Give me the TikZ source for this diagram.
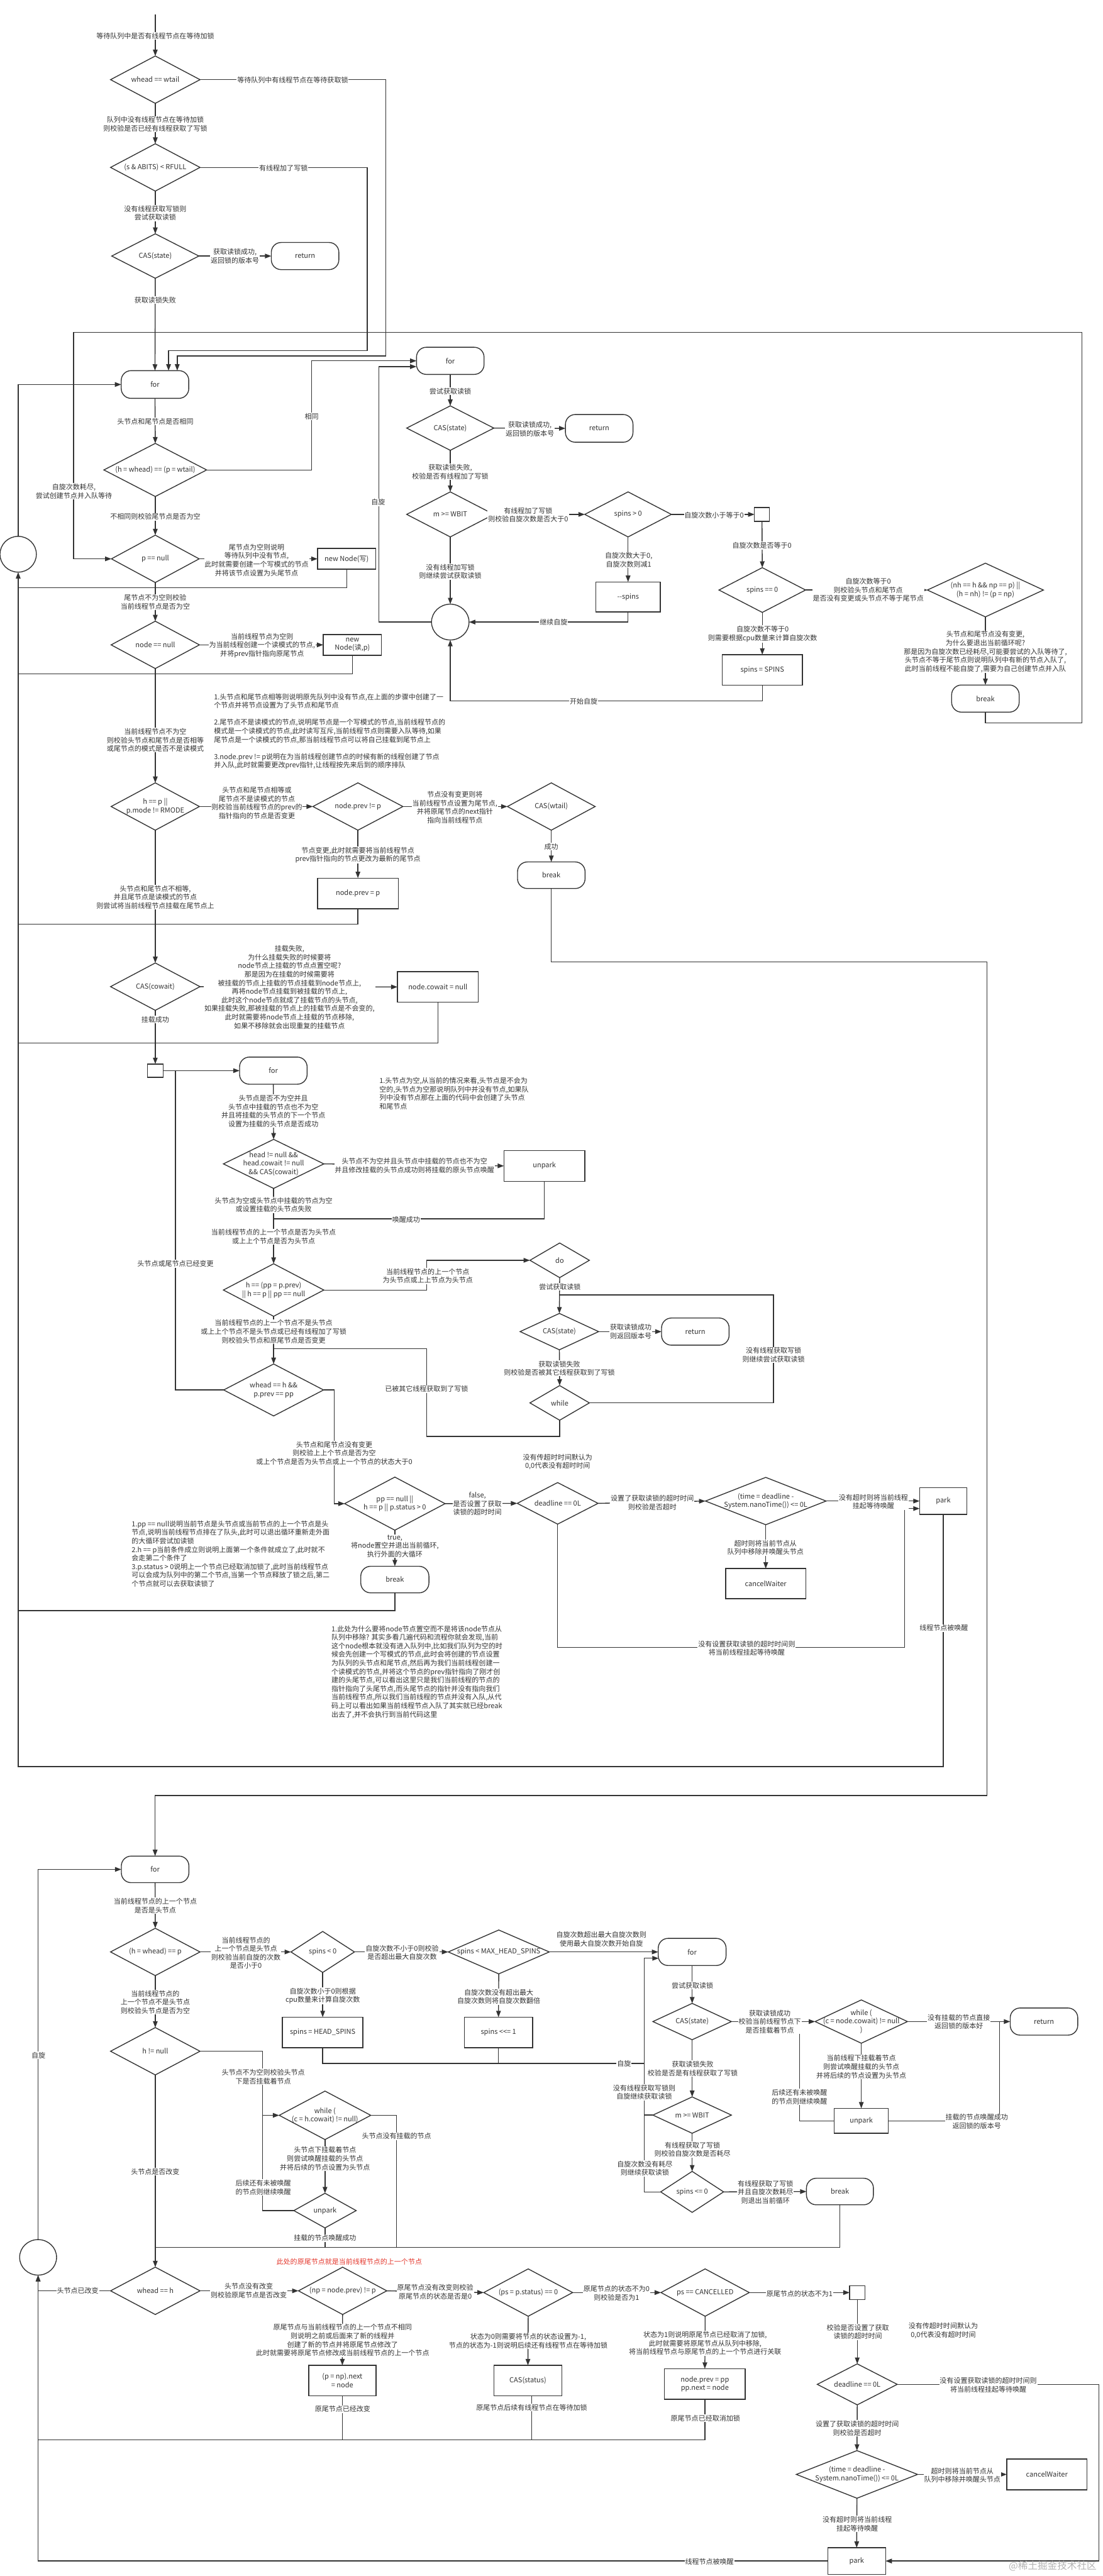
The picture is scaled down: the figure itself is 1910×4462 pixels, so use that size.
\documentclass[tikz,border=0pt]{standalone}
\usepackage{fontspec}
\setmainfont{Noto Sans CJK SC}
\usetikzlibrary{shapes.geometric,arrows.meta}
\definecolor{ink}{HTML}{333333}
\definecolor{redtxt}{HTML}{E5392F}
\definecolor{wm}{HTML}{B4B4B4}
\newcommand\myFont{\fontsize{12}{14.8}\selectfont\lineskiplimit=-30pt\relax}
\tikzset{
  lbl/.style={font=\myFont,text=ink,align=center,inner sep=0pt},
  dia/.style={diamond,draw=ink,line width=1.5pt,fill=white,inner sep=0pt,outer sep=0pt},
  boxn/.style={rectangle,draw=ink,line width=1.5pt,fill=white,inner sep=0pt,outer sep=0pt,font=\myFont,text=ink,align=center},
  term/.style={boxn,rounded corners=17pt},
  circn/.style={ellipse,draw=ink,line width=1.5pt,fill=white,inner sep=0pt,outer sep=0pt},
  ln/.style={draw=ink,line width=1.5pt},
  ar/.style={ln,-{Triangle[length=11pt,width=8pt]}},
  edgel/.style={lbl,fill=white,inner xsep=1pt,inner ysep=1pt},
  notel/.style={lbl,align=left,anchor=west}
}
\newcommand\myDia[6]{\node[dia,minimum width=#4pt,minimum height=#5pt,label={[lbl]center:{#6}}] (#1) at (#2,#3) {};}
\newcommand\myBox[6]{\node[boxn,minimum width=#4pt,minimum height=#5pt] (#1) at (#2,#3) {#6};}
\newcommand\myTerm[6]{\node[term,minimum width=#4pt,minimum height=#5pt] (#1) at (#2,#3) {#6};}
\newcommand\myPt[3]{\coordinate (#1) at (#2,#3);}
\newcommand\myLab[4]{\node[edgel] (#1) at (#2,#3) {#4};}
\begin{document}
\begin{tikzpicture}[x=1pt,y=-1pt]
\useasboundingbox[fill=white] (0,0) rectangle (1910,4462);
% ---------- nodes: top / left column
\myDia{dA}{269}{138}{155}{82}{whead == wtail}
\myDia{dB}{269}{290}{155}{82}{(s \& ABITS) < RFULL}
\myDia{dC}{269}{443.5}{151}{77}{CAS(state)}
\myTerm{retA}{528.5}{443.5}{117}{47}{return}
\myTerm{forA}{268.5}{666}{117}{48}{for}
\myDia{dD}{269}{814}{178}{92}{(h = whead) == (p = wtail)}
\myDia{dE}{269}{968}{152}{82}{p == null}
\myBox{bNewW}{600.5}{968}{101}{36}{new Node(写)}
\myDia{dF}{269}{1117}{153}{82}{node == null}
\myBox{bNewR}{610.5}{1117}{101}{36}{new\\Node(读,p)}
\myDia{dG}{269}{1397}{153}{82}{h == p ||\\p.mode != RMODE}
\myDia{dH}{620}{1397}{156}{82}{node.prev != p}
\myDia{dI}{955}{1397}{152}{82}{CAS(wtail)}
\myTerm{brkB}{955}{1516}{117}{46}{break}
\myBox{bPrev}{620}{1547.5}{140}{53}{node.prev = p}
\myDia{dJ}{269}{1709}{155}{82}{CAS(cowait)}
\myBox{bCowait}{758.5}{1709.5}{140}{53}{node.cowait = null}
\myBox{sqA}{269}{1854.5}{27}{23}{}
\myTerm{forB}{473.5}{1854.5}{117}{47}{for}
\myDia{dK}{474}{2016}{174}{85}{head != null \&\&\\head.cowait != null\\\&\& CAS(cowait)}
\myBox{bUnpA}{943}{2019.5}{140}{53}{unpark}
\myDia{dL}{474}{2234.5}{174}{91}{h == (pp = p.prev)\\|| h == p || pp == null}
\myDia{dDo}{969.5}{2183}{103}{60}{do}
\myDia{dCasC}{969}{2306.5}{136}{63}{CAS(state)}
\myTerm{retC}{1204.5}{2306.5}{117}{47}{return}
\myDia{dWh}{969.5}{2430}{103}{60}{while}
\myDia{dM}{474}{2407.6}{173}{90}{whead == h \&\&\\p.prev == pp}
\myDia{dN}{684}{2604.5}{174}{92}{pp == null ||\\h == p || p.status > 0}
\myDia{dO}{966}{2604}{140}{72}{deadline == 0L}
\myDia{dP}{1326.5}{2600}{209}{82}{(time = deadline -\\System.nanoTime()) <= 0L}
\myBox{parkA}{1634}{2600}{82}{46.5}{park}
\myBox{cancelA}{1326.5}{2743}{139}{52}{cancelWaiter}
\myTerm{brkC}{684}{2736}{118}{46}{break}
\node[circn,minimum width=63pt,minimum height=62pt] (circA) at (31.5,960) {};
% ---------- nodes: upper right
\myTerm{forR}{780}{625}{117}{47}{for}
\myDia{dCas}{780}{741.5}{151}{77}{CAS(state)}
\myTerm{retB}{1038}{742}{117}{48}{return}
\myDia{dWbit}{780}{891}{151}{78}{m >= WBIT}
\myDia{dSp}{1088}{891}{150}{78}{spins > 0}
\myBox{sqB}{1320}{891}{26}{24}{}
\myBox{bDec}{1088}{1034}{112}{52}{{-}{-}spins}
\node[circn,minimum width=65pt,minimum height=62pt] (circB) at (780,1077.5) {};
\myDia{dSpz}{1320.5}{1022}{150}{77.5}{spins == 0}
\myBox{bSpins}{1320.5}{1160.5}{139}{53}{spins = SPINS}
\myDia{dNh}{1707}{1022}{201}{93}{(nh == h \&\& np == p) ||\\(h = nh) != (p = np)}
\myTerm{brkA}{1707}{1210}{117}{47}{break}
% ---------- nodes: lower block
\myTerm{forC}{268.7}{3238}{117}{46}{for}
\myDia{dQ}{269}{3381}{155}{82}{(h = whead) == p}
\myDia{dR}{559}{3381}{110}{71}{spins < 0}
\myDia{dS}{864}{3381}{175}{76}{spins < MAX\_HEAD\_SPINS}
\myBox{bHead}{559}{3520.5}{139.5}{53}{spins = HEAD\_SPINS}
\myBox{bShl}{863.5}{3520.5}{118}{53}{spins <{}<= 1}
\myTerm{forD}{1199}{3381}{117.5}{47}{for}
\myDia{dT}{1199}{3501.6}{136}{63}{CAS(state)}
\myDia{dU}{1492}{3501.6}{160}{75}{while (\\(c = node.cowait) != null\\)}
\myTerm{retD}{1808.5}{3501.6}{117}{47}{return}
\myBox{bUnpB}{1492}{3673.5}{94}{43}{unpark}
\myDia{dV}{1199}{3663.6}{136}{63}{m >= WBIT}
\myDia{dW}{1199}{3796.6}{109}{71}{spins <= 0}
\myTerm{brkD}{1455}{3796}{116}{46}{break}
\myDia{dX}{269}{3553}{155}{82}{h != null}
\myDia{dY}{563}{3664}{158.6}{84}{while (\\(c = h.cowait) != null)}
\myDia{dZ}{563}{3829}{108}{60}{unpark}
\node[circn,minimum width=64pt,minimum height=61.5pt] (circC) at (66,3910) {};
\myDia{dAb}{269}{3968}{155}{82}{whead == h}
\myDia{dBb}{593.5}{3968}{153}{82}{(np = node.prev) != p}
\myDia{dCb}{915}{3971}{154}{82}{(ps = p.status) == 0}
\myDia{dDb}{1221.5}{3971}{153}{82}{ps == CANCELLED}
\myBox{sqC}{1485}{3971}{26.5}{24}{}
\myBox{bP}{593}{4123.5}{116.5}{53}{(p = np).next\\= node}
\myBox{bCas}{914.5}{4123.5}{117}{53}{CAS(status)}
\myBox{bPP}{1221}{4129.5}{140}{53}{node.prev = pp\\pp.next = node}
\myDia{dEb}{1485}{4130}{138.5}{71}{deadline == 0L}
\myDia{dFb}{1484.5}{4286}{210}{82.5}{(time = deadline -\\System.nanoTime()) <= 0L}
\myBox{cancelB}{1813.5}{4286}{139}{53}{cancelWaiter}
\myBox{parkB}{1484}{4436}{100}{46}{park}
% ---------- way points
\myPt{start}{269}{25}
\myPt{wA}{668}{616.5}\myPt{inA}{307}{642}
\myPt{wB}{636}{607.5}\myPt{inB}{292}{642}
\myPt{wD}{540}{625}
\myPt{wEa}{1874}{1252}\myPt{wEb}{127.5}{576}
\myPt{jA}{31.5}{1018}\myPt{jB}{31.5}{1167}\myPt{jC}{31.5}{1600.5}\myPt{jD}{31.5}{1807}\myPt{jE}{31.5}{2790}\myPt{jF}{31.5}{3060}
\myPt{wIa}{1710}{1666}\myPt{wIb}{268.7}{3110}
\myPt{jUnp}{474}{2111}
\myPt{wLa}{739}{2183}
\myPt{wWa}{1340}{2243}\myPt{jWa}{969.5}{2243}
\myPt{wWb}{739}{2488}\myPt{jWb}{474}{2336}
\myPt{wM}{304}{1854.5}
\myPt{wN}{579}{2604.5}
\myPt{wOa}{1567}{2853.6}\myPt{inP}{1593}{2613}
\myPt{wSa}{780}{1214}
\myPt{wCa}{656}{635}\myPt{inR}{721.5}{635}
\myPt{jSp}{1116}{3574}\myPt{jSpb}{863.5}{3574}
\myPt{wX}{454.6}{3664}
\myPt{wZ}{563}{3893}\myPt{wY}{687}{3893}\myPt{wBr}{269}{3893}
\myPt{jLow}{66}{4226}\myPt{casOut}{921}{4150}
\myPt{wEb2}{1903.6}{4436}
\myPt{jU}{1385}{3501.6}\myPt{jUr}{1731.6}{3501.6}
\myPt{wW}{1116}{3392}\myPt{inD}{1141}{3392}\myPt{jV}{1116}{3663.6}
% ---------- connectors
\draw[ar] (start) -- (dA.north);
\draw[ar] (dA.south) -- (dB.north);
\draw[ar] (dB.south) -- (dC.north);
\draw[ar] (dC.east) -- (retA.west);
\draw[ar] (dC.south) -- (forA.north);
\draw[ar] (dA.east) -| (wA) -| (inA);
\draw[ar] (dB.east) -| (wB) -| (inB);
\draw[ar] (forA.south) -- (dD.north);
\draw[ar] (dD.east) -| (wD) -- (forR.west);
\draw[ar] (dD.south) -- (dE.north);
\draw[ar] (brkA.south) |- (wEa) |- (wEb) |- (dE.west);
\draw[ar] (dE.east) -- (bNewW.west);
\draw[ar] (dE.south) -- (dF.north);
\draw[ln] (bNewW.south) |- (jA);
\draw[ln] (bNewR.south) |- (jB);
\draw[ar] (parkA.south) |- (jF) -- (circA.south);
\draw[ln] (bPrev.south) |- (jC);
\draw[ln] (bCowait.south) |- (jD);
\draw[ln] (brkC.south) |- (jE);
\draw[ar] (circA.north) |- (forA.west);
\draw[ar] (dF.east) -- (bNewR.west);
\draw[ar] (dF.south) -- (dG.north);
\draw[ar] (dG.east) -- (dH.west);
\draw[ar] (dH.east) -- (dI.west);
\draw[ar] (dI.south) -- (brkB.north);
\draw[ar] (brkB.south) |- (wIa) |- (wIb) -- (forC.north);
\draw[ar] (dH.south) -- (bPrev.north);
\draw[ar] (dG.south) -- (dJ.north);
\draw[ar] (dJ.east) -- (bCowait.west);
\draw[ar] (dJ.south) -- (sqA.north);
\draw[ar] (sqA.east) -- (forB.west);
\draw[ar] (forB.south) -- (dK.north);
\draw[ar] (dK.east) -- (bUnpA.west);
\draw[ln] (bUnpA.south) |- (jUnp);
\draw[ar] (dK.south) -- (dL.north);
\draw[ar] (dL.south) -- (dM.north);
\draw[ar] (dL.east) -| (wLa) -- (dDo.west);
\draw[ar] (dDo.south) -- (dCasC.north);
\draw[ar] (dCasC.east) -- (retC.west);
\draw[ar] (dCasC.south) -- (dWh.north);
\draw[ln] (dWh.east) -| (wWa) -- (jWa);
\draw[ln] (dWh.south) |- (wWb) |- (jWb);
\draw[ln] (dM.west) -| (wM);
\draw[ar] (dM.east) -| (wN) -- (dN.west);
\draw[ar] (dN.east) -- (dO.west);
\draw[ar] (dN.south) -- (brkC.north);
\draw[ar] (dO.east) -- (dP.west);
\draw[ar] (dP.east) -- (parkA.west);
\draw[ar] (dP.south) -- (cancelA.north);
\draw[ar] (dO.south) |- (wOa) |- (inP);
% upper right
\draw[ar] (forR.south) -- (dCas.north);
\draw[ar] (dCas.east) -- (retB.west);
\draw[ar] (dCas.south) -- (dWbit.north);
\draw[ar] (dWbit.east) -- (dSp.west);
\draw[ar] (dSp.east) -- (sqB.west);
\draw[ar] (dSp.south) -- (bDec.north);
\draw[ar] (bDec.south) |- (circB.east);
\draw[ar] (dWbit.south) -- (circB.north);
\draw[ar] (sqB.south) -- (dSpz.north);
\draw[ar] (dSpz.south) -- (bSpins.north);
\draw[ar] (bSpins.south) |- (wSa) -- (circB.south);
\draw[ar] (dSpz.east) -- (dNh.west);
\draw[ar] (dNh.south) -- (brkA.north);
\draw[ar] (circB.west) -| (wCa) -- (inR);
% lower
\draw[ar] (forC.south) -- (dQ.north);
\draw[ar] (dQ.east) -- (dR.west);
\draw[ar] (dR.east) -- (dS.west);
\draw[ar] (dS.east) -- (forD.west);
\draw[ar] (dR.south) -- (bHead.north);
\draw[ar] (dS.south) -- (bShl.north);
\draw[ln] (bHead.south) |- (jSp);
\draw[ln] (bShl.south) -- (jSpb);
\draw[ar] (dQ.south) -- (dX.north);
\draw[ar] (dX.east) -| (wX) -- (dY.west);
\draw[ar] (dY.south) -- (dZ.north);
\draw[ln] (dZ.west) -| (wX);
\draw[ln] (dZ.south) -- (wZ);
\draw[ln] (dY.east) -| (wY);
\draw[ar] (dX.south) -- (dAb.north);
\draw[ln] (brkD.south) |- (wBr);
\draw[ar] (dAb.west) -| (circC.south);
\draw[ar] (parkB.west) -| (circC.south);
\draw[ar] (circC.north) |- (forC.west);
\draw[ln] (bP.south) |- (jLow);
\draw[ln] (casOut) |- (jLow);
\draw[ln] (bPP.south) |- (jLow);
\draw[ar] (dAb.east) -- (dBb.west);
\draw[ar] (dBb.east) -- (dCb.west);
\draw[ar] (dCb.east) -- (dDb.west);
\draw[ar] (dDb.east) -- (sqC.west);
\draw[ar] (dBb.south) -- (bP.north);
\draw[ar] (dCb.south) -- (bCas.north);
\draw[ar] (dDb.south) -- (bPP.north);
\draw[ar] (sqC.south) -- (dEb.north);
\draw[ar] (dEb.east) -| (wEb2) -- (parkB.east);
\draw[ar] (dEb.south) -- (dFb.north);
\draw[ar] (dFb.east) -- (cancelB.west);
\draw[ar] (dFb.south) -- (parkB.north);
\draw[ar] (forD.south) -- (dT.north);
\draw[ar] (dT.east) -- (dU.west);
\draw[ar] (dU.east) -- (retD.west);
\draw[ar] (dU.south) -- (bUnpB.north);
\draw[ln] (bUnpB.west) -| (jU);
\draw[ln] (bUnpB.east) -| (jUr);
\draw[ar] (dT.south) -- (dV.north);
\draw[ar] (dV.south) -- (dW.north);
\draw[ar] (dW.east) -- (brkD.west);
\draw[ln] (dV.west) -- (jV);
\draw[ar] (dW.west) -| (wW) -- (inD);
% ---------- labels, top / left
\myLab{l01}{269}{62}{等待队列中是否有线程节点在等待加锁}
\myLab{l02}{507}{139}{等待队列中有线程节点在等待获取锁}
\myLab{l03}{269}{215}{队列中没有线程节点在等待加锁\\则校验是否已经有线程获取了写锁}
\myLab{l04}{491}{291}{有线程加了写锁}
\myLab{l05}{269}{369}{没有线程获取写锁则\\尝试获取读锁}
\myLab{l06}{407}{444}{获取读锁成功,\\返回锁的版本号}
\myLab{l07}{269}{520}{获取读锁失败}
\myLab{l08}{269}{730}{头节点和尾节点是否相同}
\myLab{l09}{540}{721}{相同}
\myLab{l10}{128}{851}{自旋次数耗尽,\\尝试创建节点并入队等待}
\myLab{l11}{269}{895}{不相同则校验尾节点是否为空}
\myLab{l12}{444.5}{970}{尾节点为空则说明\\等待队列中没有节点,\\此时就需要创建一个写模式的节点\\并将该节点设置为头尾节点}
\myLab{l13}{269}{1043}{尾节点不为空则校验\\当前线程节点是否为空}
\myLab{l14}{454}{1118}{当前线程节点为空则\\为当前线程创建一个读模式的节点,\\并将prev指针指向原尾节点}
\myLab{l15}{269}{1282}{当前线程节点不为空\\则校验头节点和尾节点是否相等\\或尾节点的模式是否不是读模式}
\node[notel] (n1) at (370.5,1267) {1.头节点和尾节点相等则说明原先队列中没有节点,在上面的步骤中创建了一\\个节点并将节点设置为了头节点和尾节点\\~\\2.尾节点不是读模式的节点,说明尾节点是一个写模式的节点,当前线程节点的\\模式是一个读模式的节点,此时读写互斥,当前线程节点则需要入队等待,如果\\尾节点是一个读模式的节点,那当前线程节点可以将自己挂载到尾节点上\\~\\3.node.prev != p说明在为当前线程创建节点的时候有新的线程创建了节点\\并入队,此时就需要更改prev指针,让线程按先来后到的顺序排队};
\myLab{l16}{445}{1391}{头节点和尾节点相等或\\尾节点不是读模式的节点\\则校验当前线程节点的prev的\\指针指向的节点是否变更}
\myLab{l17}{788}{1398.6}{节点没有变更则将\\当前线程节点设置为尾节点,\\并将原尾节点的next指针\\指向当前线程节点}
\myLab{l18}{955}{1466.5}{成功}
\myLab{l19}{620}{1481}{节点变更,此时就需要将当前线程节点\\prev指针指向的节点更改为最新的尾节点}
\myLab{l20}{269}{1554}{头节点和尾节点不相等,\\并且尾节点是读模式的节点\\则尝试将当前线程节点挂载在尾节点上}
\myLab{l21}{501.5}{1710}{挂载失败,\\为什么挂载失败的时候要将\\node节点上挂载的节点点置空呢?\\那是因为在挂载的时候需要将\\被挂载的节点上挂载的节点挂载到node节点上,\\再将node节点挂载到被挂载的节点上,\\此时这个node节点就成了挂载节点的头节点,\\如果挂载失败,那被挂载的节点上的挂载节点是不会变的,\\此时就需要将node节点上挂载的节点移除,\\如果不移除就会出现重复的挂载节点}
\myLab{l22}{269}{1766}{挂载成功}
\myLab{l23}{473.5}{1924.5}{头节点是否不为空并且\\头节点中挂载的节点也不为空\\并且将挂载的头节点的下一个节点\\设置为挂载的头节点是否成功}
\node[notel] (n2) at (657,1894) {1.头节点为空,从当前的情况来看,头节点是不会为\\空的,头节点为空那说明队列中并没有节点,如果队\\列中没有节点那在上面的代码中会创建了头节点\\和尾节点};
\myLab{l24}{718}{2019}{头节点不为空并且头节点中挂载的节点也不为空\\并且修改挂载的头节点成功则将挂载的原头节点唤醒}
\myLab{l25}{474}{2087}{头节点为空或头节点中挂载的节点为空\\或设置挂载的头节点失败}
\myLab{l26}{703.6}{2113}{唤醒成功}
\myLab{l27}{474}{2142}{当前线程节点的上一个节点是否为头节点\\或上上个节点是否为头节点}
\myLab{l28}{304}{2189}{头节点或尾节点已经变更}
\myLab{l29}{741}{2210}{当前线程节点的上一个节点\\为头节点或上上节点为头节点}
\myLab{l30}{970}{2228.6}{尝试获取读锁}
\myLab{l31}{474}{2306.5}{当前线程节点的上一个节点不是头节点\\或上上个节点不是头节点或已经有线程加了写锁\\则校验头节点和原尾节点是否变更}
\myLab{l32}{1092.7}{2306.7}{获取读锁成功\\则返回版本号}
\myLab{l33}{969}{2370}{获取读锁失败\\则校验是否被其它线程获取到了写锁}
\myLab{l34}{1340}{2347}{没有线程获取写锁\\则继续尝试获取读锁}
\myLab{l35}{739}{2406}{已被其它线程获取到了写锁}
\myLab{l36}{579}{2517}{头节点和尾节点没有变更\\则校验上上个节点是否为空\\或上个节点是否为头节点或上一个节点的状态大于0}
\myLab{l37}{827}{2604.7}{false,\\是否设置了获取\\读锁的超时时间}
\node[lbl] (l38) at (966,2532) {没有传超时时间默认为\\0,0代表没有超时时间};
\myLab{l39}{1130}{2603}{设置了获取读锁的超时时间\\则校验是否超时}
\myLab{l40}{1513}{2601}{没有超时则将当前线程\\挂起等待唤醒}
\myLab{l41}{1326}{2680.6}{超时则将当前节点从\\队列中移除并唤醒头节点}
\myLab{l42}{684}{2678}{true,\\将node置空并退出当前循环,\\执行外面的大循环}
\node[notel] (n3) at (228,2691.5) {1.pp == null说明当前节点是头节点或当前节点的上一个节点是头\\节点,说明当前线程节点排在了队头,此时可以退出循环重新走外面\\的大循环尝试加读锁\\2.h == p当前条件成立则说明上面第一个条件就成立了,此时就不\\会走第二个条件了\\3.p.status > 0说明上一个节点已经取消加锁了,此时当前线程节点\\可以会成为队列中的第二个节点,当第一个节点释放了锁之后,第二\\个节点就可以去获取读锁了};
\node[notel] (n4) at (574,2896) {1.此处为什么要将node节点置空而不是将该node节点从\\队列中移除? 其实多看几遍代码和流程你就会发现,当前\\这个node根本就没有进入队列中,比如我们队列为空的时\\候会先创建一个写模式的节点,此时会将创建的节点设置\\为队列的头节点和尾节点,然后再为我们当前线程创建一\\个读模式的节点,并将这个节点的prev指针指向了刚才创\\建的头尾节点,可以看出这里只是我们当前线程的节点的\\指针指向了头尾节点,而头尾节点的指针并没有指向我们\\当前线程节点,所以我们当前线程的节点并没有入队,从代\\码上可以看出如果当前线程节点入队了其实就已经break\\出去了,并不会执行到当前代码这里};
\myLab{l43}{1293.5}{2855}{没有设置获取读锁的超时时间则\\将当前线程挂起等待唤醒}
\myLab{l44}{1635}{2820}{线程节点被唤醒}
% labels, upper right
\myLab{l45}{780}{678}{尝试获取读锁}
\myLab{l46}{918}{743}{获取读锁成功,\\返回锁的版本号}
\myLab{l47}{780}{817}{获取读锁失败,\\校验是否有线程加了写锁}
\myLab{l48}{915}{892}{有线程加了写锁\\则校验自旋次数是否大于0}
\myLab{l49}{1237}{892.6}{自旋次数小于等于0}
\myLab{l50}{1089}{970}{自旋次数大于0,\\自旋次数则减1}
\myLab{l51}{959}{1078}{继续自旋}
\myLab{l52}{780}{990}{没有线程加写锁\\则继续尝试获取读锁}
\myLab{l53}{1320}{945}{自旋次数是否等于0}
\myLab{l54}{1321}{1098}{自旋次数不等于0\\则需要根据cpu数量来计算自旋次数}
\myLab{l55}{1504}{1022}{自旋次数等于0\\则校验头节点和尾节点\\是否没有变更或头节点不等于尾节点}
\myLab{l56}{1707}{1129}{头节点和尾节点没有变更,\\为什么要退出当前循环呢?\\那是因为自旋次数已经耗尽,可能要尝试的入队等待了,\\头节点不等于尾节点则说明队列中有新的节点入队了,\\此时当前线程不能自旋了,需要为自己创建节点并入队}
\myLab{l57}{1011}{1215}{开始自旋}
\myLab{l58}{655}{870}{自旋}
% labels, lower
\myLab{l59}{269}{3301}{当前线程节点的上一个节点\\是否是头节点}
\myLab{l60}{426}{3382.6}{当前线程节点的\\上一个节点是头节点\\则校验当前自旋的次数\\是否小于0}
\myLab{l61}{696.6}{3382}{自旋次数不小于0则校验\\是否超出最大自旋次数}
\node[lbl] (l62) at (1041.7,3359) {自旋次数超出最大自旋次数则\\使用最大自旋次数开始自旋};
\myLab{l63}{559}{3457}{自旋次数小于0则根据\\cpu数量来计算自旋次数}
\myLab{l64}{864}{3458.5}{自旋次数没有超出最大\\自旋次数则将自旋次数翻倍}
\myLab{l65}{269}{3468}{当前线程节点的\\上一个节点不是头节点\\则校验头节点是否为空}
\myLab{l66}{1081}{3575}{自旋}
\myLab{l67}{66.6}{3560}{自旋}
\myLab{l68}{456}{3597}{头节点不为空则校验头节点\\下是否挂载着节点}
\myLab{l69}{687}{3700}{头节点没有挂载的节点}
\myLab{l70}{563}{3739}{头节点下挂载着节点\\则尝试唤醒挂载的头节点\\并将后续的节点设置为头节点}
\myLab{l71}{456}{3789}{后续还有未被唤醒\\的节点则继续唤醒}
\myLab{l72}{563}{3876.6}{挂载的节点唤醒成功}
\myLab{l73}{269}{3761.6}{头节点是否改变}
\myLab{l74}{134.7}{3968}{头节点已改变}
\node[lbl,text=redtxt] (l75) at (605,3918) {此处的原尾节点就是当前线程节点的上一个节点};
\myLab{l76}{431}{3968}{头节点没有改变\\则校验原尾节点是否改变}
\myLab{l77}{754}{3970}{原尾节点没有改变则校验\\原尾节点的状态是否是0}
\myLab{l78}{593.5}{4053.6}{原尾节点与当前线程节点的上一个节点不相同\\则说明之前或后面来了新的线程并\\创建了新的节点并将原尾节点修改了\\此时就需要将原尾节点修改成当前线程节点的上一个节点}
\myLab{l79}{915}{4055}{状态为0则需要将节点的状态设置为-1,\\节点的状态为-1则说明后续还有线程节点在等待加锁}
\myLab{l80}{593.5}{4173}{原尾节点已经改变}
\myLab{l81}{921}{4170}{原尾节点后续有线程节点在等待加锁}
\myLab{l82}{1068}{3972}{原尾节点的状态不为0\\则校验是否为1}
\myLab{l83}{1385}{3972.7}{原尾节点的状态不为1}
\myLab{l84}{1486}{4039}{校验是否设置了获取\\读锁的超时时间}
\node[lbl] (l85) at (1634,4037) {没有传超时时间默认为\\0,0代表没有超时时间};
\myLab{l86}{1221.5}{4059}{状态为1则说明原尾节点已经取消了加锁,\\此时就需要将原尾节点从队列中移除,\\将当前线程节点与原尾节点的上一个节点进行关联}
\myLab{l87}{1222}{4189}{原尾节点已经取消加锁}
\myLab{l88}{1712}{4131}{没有设置获取读锁的超时时间则\\将当前线程挂起等待唤醒}
\myLab{l89}{1485}{4206}{设置了获取读锁的超时时间\\则校验是否超时}
\myLab{l90}{1667}{4287.6}{超时则将当前节点从\\队列中移除并唤醒头节点}
\myLab{l91}{1485}{4371.6}{没有超时则将当前线程\\挂起等待唤醒}
\myLab{l92}{1229}{4437.7}{线程节点被唤醒}
\myLab{l93}{1199.5}{3439}{尝试获取读锁}
\myLab{l94}{1333.5}{3502}{获取读锁成功\\校验当前线程节点下\\是否挂载着节点}
\myLab{l95}{1661}{3502}{没有挂载的节点直接\\返回锁的版本好}
\myLab{l96}{1492}{3580}{当前线程下挂载着节点\\则尝试唤醒挂载的头节点\\并将后续的节点设置为头节点}
\myLab{l97}{1385}{3632}{后续还有未被唤醒\\的节点则继续唤醒}
\myLab{l98}{1692}{3675}{挂载的节点唤醒成功\\返回锁的版本号}
\myLab{l99}{1200}{3583}{获取读锁失败\\校验是否是有线程获取了写锁}
\myLab{m01}{1116}{3624}{没有线程获取写锁则\\自旋继续获取读锁}
\myLab{m02}{1199.5}{3723}{有线程获取了写锁\\则校验自旋次数是否耗尽}
\myLab{m03}{1117}{3756}{自旋次数没有耗尽\\则继续获取读锁}
\myLab{m04}{1326}{3797}{有线程获取了写锁\\并且自旋次数耗尽\\则退出当前循环}
\node[font=\fontsize{17}{20}\selectfont,text=wm,inner sep=0pt] (mark) at (1823.5,4445) {@稀土掘金技术社区};
\end{tikzpicture}
\end{document}
